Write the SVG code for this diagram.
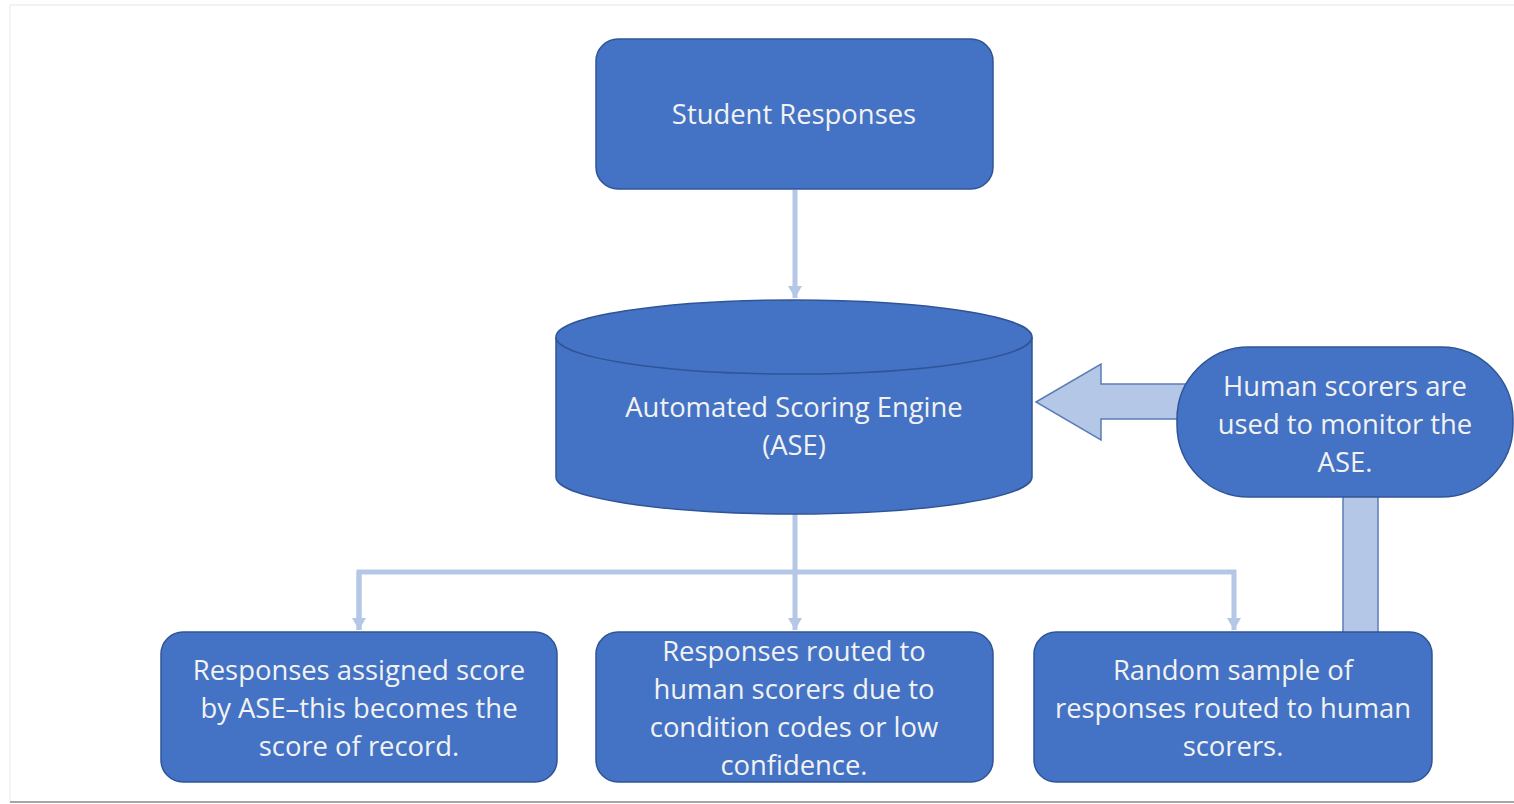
<svg xmlns="http://www.w3.org/2000/svg" width="1514" height="804" viewBox="0 0 1514 804">
<style>
.node{fill:#4472C4;stroke:#2F5597;stroke-width:1.5}
.t{font-family:"Open Sans","Liberation Sans",sans-serif;font-size:27.4px;fill:#F2F2F2;text-anchor:middle}
.c{fill:none;stroke:#B4C7E7;stroke-width:5}
.blk{fill:#B4C7E7;stroke:#5B7DB8;stroke-width:1.5}
</style>
<defs>
<marker id="ah" viewBox="0 0 12 14" refX="12" refY="7" markerWidth="12" markerHeight="14" markerUnits="userSpaceOnUse" orient="auto">
<path d="M0,0 L12,7 L0,14 Z" fill="#B4C7E7"/>
</marker>
</defs>
<rect x="0" y="0" width="1514" height="804" fill="#FFFFFF"/>
<line x1="10" y1="5" x2="1514" y2="5" stroke="#F2F2F2" stroke-width="2"/>
<line x1="10" y1="5" x2="10" y2="802" stroke="#F4F4F4" stroke-width="2"/>
<line x1="10" y1="802" x2="1514" y2="802" stroke="#A6A6A6" stroke-width="2"/>

<g id="connectors">
<path class="c" d="M795,190 L795,298" marker-end="url(#ah)"/>
<path class="c" d="M795,514 L795,630" marker-end="url(#ah)"/>
<path class="c" d="M359,630 L359,572 L1234,572 L1234,630" marker-end="url(#ah)"/>
<path class="c" d="M359,572 L359,630" marker-end="url(#ah)"/>
<path class="blk" d="M1036,402 L1101,364 L1101,384 L1190,384 L1190,419 L1101,419 L1101,440 Z"/>
<rect class="blk" x="1343" y="490" width="35" height="143"/>
</g>

<g id="student-responses">
<rect class="node" x="596" y="39" width="397" height="150" rx="22"/>
<text class="t" x="794" y="124">Student Responses</text>
</g>

<g id="ase">
<path class="node" d="M556,337 L556,477 A238,37 0 0 0 1032,477 L1032,337"/>
<ellipse class="node" cx="794" cy="337" rx="238" ry="37"/>
<text class="t" x="794" y="417">Automated Scoring Engine</text>
<text class="t" x="794" y="455">(ASE)</text>
</g>

<g id="human-monitor">
<rect class="node" x="1177" y="347" width="336" height="150" rx="72"/>
<text class="t" x="1345" y="396">Human scorers are</text>
<text class="t" x="1345" y="434">used to monitor the</text>
<text class="t" x="1345" y="472">ASE.</text>
</g>

<g id="score-of-record">
<rect class="node" x="161" y="632" width="396" height="150" rx="22"/>
<text class="t" x="359" y="680">Responses assigned score</text>
<text class="t" x="359" y="718">by ASE–this becomes the</text>
<text class="t" x="359" y="756">score of record.</text>
</g>

<g id="routed-condition">
<rect class="node" x="596" y="632" width="397" height="150" rx="22"/>
<text class="t" x="794" y="661">Responses routed to</text>
<text class="t" x="794" y="699">human scorers due to</text>
<text class="t" x="794" y="737">condition codes or low</text>
<text class="t" x="794" y="775">confidence.</text>
</g>

<g id="random-sample">
<rect class="node" x="1034" y="632" width="398" height="150" rx="22"/>
<text class="t" x="1233" y="680">Random sample of</text>
<text class="t" x="1233" y="718">responses routed to human</text>
<text class="t" x="1233" y="756">scorers.</text>
</g>
</svg>
